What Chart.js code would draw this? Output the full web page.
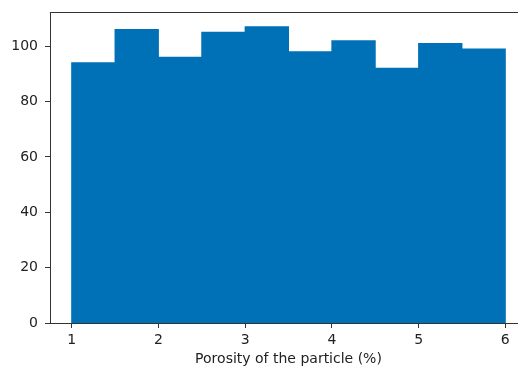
<!DOCTYPE html>
<html>
<head>
<meta charset="utf-8">
<script src="https://cdn.jsdelivr.net/npm/chart.js@4"></script>
<style>
  html, body { margin: 0; padding: 0; background: #fff; overflow: hidden; width: 518px; height: 372px; }
  canvas { display: block; }
</style>
</head>
<body>
<canvas id="histo" width="527" height="372"></canvas>
<script>
// histogram bins (left edges), bin width and counts
const binStarts = [1, 1.5, 2, 2.5, 3, 3.5, 4, 4.5, 5, 5.5];
const binWidth = 0.5;
const counts = [94, 106, 96, 105, 107, 98, 102, 92, 101, 99];
const xTicks = [1, 2, 3, 4, 5, 6];
const yTicks = [0, 20, 40, 60, 80, 100];
const xLabel = 'Porosity of the particle (%)';

const axisColor = '#333';
const font = { family: 'DejaVu Sans', size: 14 };

const points = binStarts.map((s, i) => ({ x: s + binWidth / 2, y: counts[i] }));

// matplotlib style margins (5%), the canvas is a bit wider than the window
const span = binStarts.length * binWidth;
const xMin = binStarts[0] - 0.05 * span;
const xMax = binStarts[binStarts.length - 1] + binWidth + 0.05 * span;
const yMax = Math.max(...counts) * 1.05;

new Chart(document.getElementById('histo').getContext('2d'), {
  type: 'bar',
  data: {
    datasets: [{
      data: points,
      backgroundColor: '#0071b6',
      borderWidth: 0,
      inflateAmount: 0.5,
      barPercentage: 1,
      categoryPercentage: 1
    }]
  },
  options: {
    responsive: false,
    animation: false,
    devicePixelRatio: 1,
    layout: { padding: { top: 12, right: 0, bottom: 0, left: 0 } },
    plugins: { legend: { display: false }, tooltip: { enabled: false } },
    scales: {
      x: {
        type: 'linear',
        position: 'bottom',
        bounds: 'data',
        offset: false,
        min: xMin,
        max: xMax,
        afterBuildTicks: s => { s.ticks = xTicks.map(v => ({ value: v })); },
        afterFit: s => { s.height = 49; s.paddingLeft = 0; s.paddingRight = 0; },
        grid: { display: true, offset: false, drawOnChartArea: false, drawTicks: true, tickLength: 5, color: axisColor },
        border: { display: true, color: axisColor, width: 1 },
        ticks: { color: '#222', font: font, padding: 4, maxRotation: 0, autoSkip: false },
        title: { display: true, text: xLabel, color: '#222', font: font, padding: { top: 0, bottom: 4 } }
      },
      xTop: {
        type: 'linear',
        position: 'top',
        offset: false,
        min: xMin,
        max: xMax,
        afterFit: s => { s.height = 0; s.paddingLeft = 0; s.paddingRight = 0; },
        grid: { display: false, drawTicks: false },
        border: { display: true, color: axisColor, width: 1 },
        ticks: { display: false }
      },
      y: {
        type: 'linear',
        bounds: 'data',
        min: 0,
        max: yMax,
        afterBuildTicks: s => { s.ticks = yTicks.map(v => ({ value: v })); },
        afterFit: s => { s.width = 50; s.paddingTop = 0; s.paddingBottom = 0; },
        grid: { display: true, drawOnChartArea: false, drawTicks: true, tickLength: 5, color: axisColor },
        border: { display: true, color: axisColor, width: 1 },
        ticks: { color: '#222', font: font, padding: 7 }
      }
    }
  }
});
</script>
</body>
</html>
